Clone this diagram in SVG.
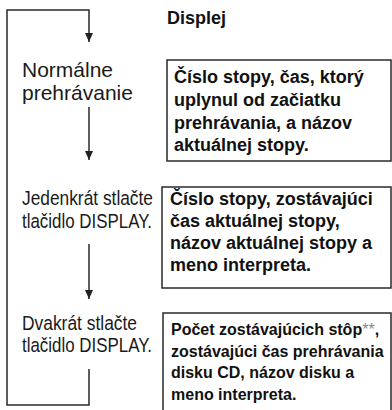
<svg xmlns="http://www.w3.org/2000/svg" width="392" height="410" viewBox="0 0 392 410">
  <defs>
    <marker id="arrow" viewBox="0 0 9 8" refX="9" refY="4" markerWidth="9" markerHeight="8" markerUnits="userSpaceOnUse" orient="auto">
      <path d="M0,0 L9,4 L0,8 Z" fill="#222"/>
    </marker>
    <style>
      .flow { fill: none; stroke: #2a2a2a; stroke-width: 1.5; }
      .box { fill: #fff; stroke: #2a2a2a; stroke-width: 1.5; }
      .step { font-family: "Liberation Sans", Arial, sans-serif; fill: #1a1a1a; }
      .info { font-family: "Liberation Sans", Arial, sans-serif; font-weight: bold; fill: #111; }
      .note { font-weight: normal; fill: #888; }
    </style>
  </defs>
  <rect width="392" height="410" fill="#fff"/>

  <!-- connectors: loop and downward arrows -->
  <g id="connectors">
    <path class="flow" d="M89,369 V405 H7 V10 H89 V42" marker-end="url(#arrow)"/>
    <path class="flow" d="M89,107 V160" marker-end="url(#arrow)"/>
    <path class="flow" d="M89,244 V299" marker-end="url(#arrow)"/>
  </g>

  <text class="info" x="167" y="24" font-size="18">Displej</text>

  <g id="step-normal">
    <text class="step" font-size="21" x="22" y="77">Normálne</text>
    <text class="step" font-size="21" x="22" y="100">prehrávanie</text>
  </g>

  <g id="display-normal">
    <rect class="box" x="167" y="60" width="224" height="101"/>
    <text class="info" font-size="18">
      <tspan x="174" y="83">Číslo stopy, čas, ktorý</tspan>
      <tspan x="174" y="106">uplynul od začiatku</tspan>
      <tspan x="174" y="129">prehrávania, a názov</tspan>
      <tspan x="174" y="151">aktuálnej stopy.</tspan>
    </text>
  </g>

  <g id="step-once">
    <text class="step" font-size="20.5" x="22" y="205" textLength="131" lengthAdjust="spacingAndGlyphs">Jedenkrát stlačte</text>
    <text class="step" font-size="20.5" x="22" y="228" textLength="130" lengthAdjust="spacingAndGlyphs">tlačidlo DISPLAY.</text>
  </g>

  <g id="display-once">
    <rect class="box" x="162" y="187" width="229" height="101"/>
    <text class="info" font-size="18">
      <tspan x="170" y="205">Číslo stopy, zostávajúci</tspan>
      <tspan x="170" y="227">čas aktuálnej stopy,</tspan>
      <tspan x="170" y="249">názov aktuálnej stopy a</tspan>
      <tspan x="170" y="271">meno interpreta.</tspan>
    </text>
  </g>

  <g id="step-twice">
    <text class="step" font-size="20.5" x="22" y="330" textLength="115" lengthAdjust="spacingAndGlyphs">Dvakrát stlačte</text>
    <text class="step" font-size="20.5" x="22" y="352" textLength="130" lengthAdjust="spacingAndGlyphs">tlačidlo DISPLAY.</text>
  </g>

  <g id="display-twice">
    <path class="box" d="M163,412 V313 H391 V412"/>
    <text class="info" font-size="16">
      <tspan x="171" y="335">Počet zostávajúcich stôp<tspan class="note">**</tspan>,</tspan>
      <tspan x="171" y="357">zostávajúci čas prehrávania</tspan>
      <tspan x="171" y="378">disku CD, názov disku a</tspan>
      <tspan x="171" y="400">meno interpreta.</tspan>
    </text>
  </g>
</svg>
